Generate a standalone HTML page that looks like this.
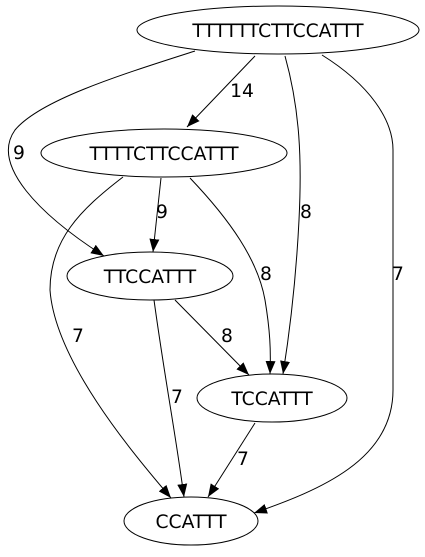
<!DOCTYPE html>
<html><head><style>
html,body{margin:0;padding:0;background:#fff;}
svg text{font-family:"DejaVu Sans","Liberation Sans",sans-serif;font-size:18.7px;fill:#000;}
</style></head><body>
<svg width="425" height="552" viewBox="0 0 425 552" xmlns="http://www.w3.org/2000/svg">
<defs>
<marker id="a" markerWidth="13" markerHeight="10" refX="13" refY="5" orient="auto" markerUnits="userSpaceOnUse">
<path d="M0,0 L13,5 L0,10 Z" fill="#000"/>
</marker>
</defs>
<g fill="none" stroke="#000" stroke-width="1">
<ellipse cx="278" cy="30" rx="141" ry="24"/>
<ellipse cx="164" cy="153" rx="123" ry="24"/>
<ellipse cx="150" cy="276" rx="83" ry="24"/>
<ellipse cx="272" cy="398" rx="75" ry="24"/>
<ellipse cx="191" cy="521" rx="67" ry="24"/>
<path d="M255,56 L187,127" marker-end="url(#a)"/>
<path d="M195,51 C120,75 40,100 15,130 C-10,165 40,215 104,256" marker-end="url(#a)"/>
<path d="M285,56 C300,110 302,160 299,220 C296,280 290,330 283,374" marker-end="url(#a)"/>
<path d="M322,55 C370,85 393,120 393,150 L393,390 C393,460 320,490 254,513" marker-end="url(#a)"/>
<path d="M161,178 L153,252" marker-end="url(#a)"/>
<path d="M190,178 C230,220 258,260 265,300 C270,330 271,350 270,374" marker-end="url(#a)"/>
<path d="M123,177 C80,210 50,240 50,290 C55,360 130,450 171,498" marker-end="url(#a)"/>
<path d="M175,300 L249,375" marker-end="url(#a)"/>
<path d="M154,300 C165,380 175,430 184,497" marker-end="url(#a)"/>
<path d="M255,423 L208,497" marker-end="url(#a)"/>
</g>
<g text-anchor="middle">
<text x="278" y="37">TTTTTTCTTCCATTT</text>
<text x="164" y="160">TTTTCTTCCATTT</text>
<text x="150" y="283">TTCCATTT</text>
<text x="272" y="405">TCCATTT</text>
<text x="191" y="528">CCATTT</text>
<text x="242" y="97">14</text>
<text x="19" y="159">9</text>
<text x="162" y="218">9</text>
<text x="306" y="218">8</text>
<text x="266" y="280">8</text>
<text x="398" y="280">7</text>
<text x="78" y="342">7</text>
<text x="227" y="342">8</text>
<text x="177" y="403">7</text>
<text x="243" y="465">7</text>
</g>
</svg>
</body></html>
